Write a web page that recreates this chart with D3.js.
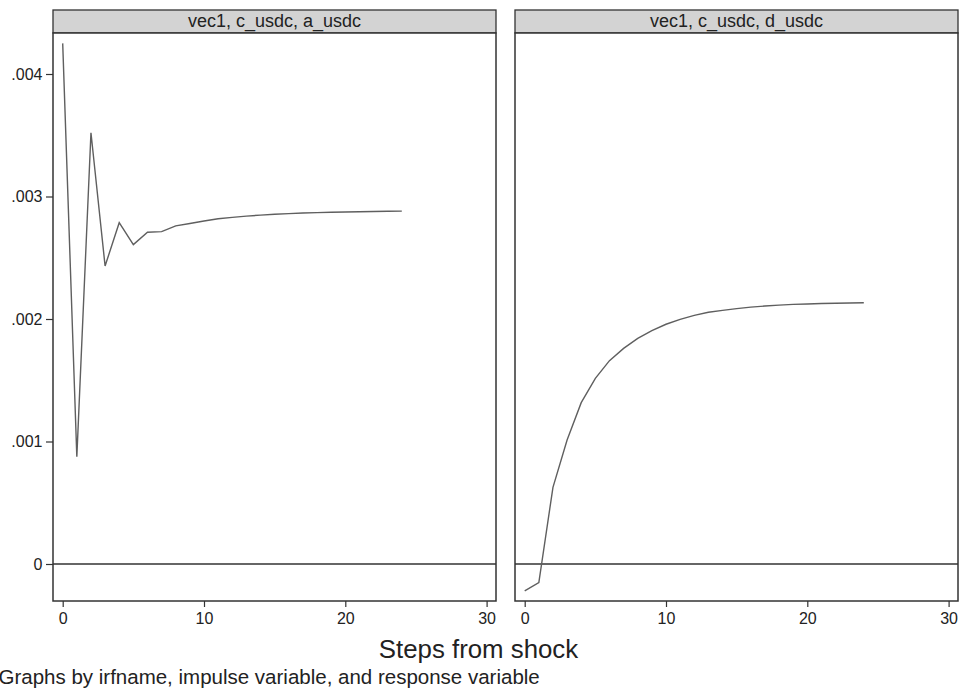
<!DOCTYPE html>
<html>
<head>
<meta charset="utf-8">
<script src="https://cdn.jsdelivr.net/npm/d3@7"></script>
<style>
  html, body { margin: 0; padding: 0; background: #fff; }
  svg { display: block; font-family: "Liberation Sans", Arial, sans-serif; }
</style>
</head>
<body>
<svg id="chart" width="961" height="693"></svg>
<script>
// Impulse-response steps (0..24)
const steps = d3.range(0, 25);

// Panel titles: irfname, impulse variable, response variable
const panelTitles = ["vec1, c_usdc, a_usdc", "vec1, c_usdc, d_usdc"];

// Response of a_usdc to an impulse in c_usdc
const irfA = [
  0.00425, 0.000876, 0.00352, 0.002433, 0.002786, 0.002607, 0.002708, 0.002713,
  0.00276, 0.00278, 0.0028, 0.002818, 0.00283, 0.00284, 0.002848, 0.002855,
  0.00286, 0.002865, 0.002868, 0.002871, 0.002874, 0.002876, 0.002878, 0.00288,
  0.002881
];

// Response of d_usdc to an impulse in c_usdc
const irfD = [
  -0.00022, -0.000152, 0.000626, 0.001012, 0.001317, 0.001516, 0.00166, 0.00176,
  0.001842, 0.001905, 0.001957, 0.001997, 0.00203, 0.002055, 0.00207, 0.002085,
  0.002097, 0.002106, 0.002113, 0.002119, 0.002123, 0.002126, 0.002129, 0.002131,
  0.002133
];

// Axis ticks
const xTicks = [0, 10, 20, 30];
const yTicks = [0, 0.001, 0.002, 0.003, 0.004];
const yTickLabels = ["0", ".001", ".002", ".003", ".004"];

const xTitle = "Steps from shock";
const note = "Graphs by irfname, impulse variable, and response variable";

const series = [irfA, irfD];

const svg = d3.select("#chart");
const fontFamily = "Liberation Sans, Arial, sans-serif";

// Panel geometry
const panels = [
  { left: 53, right: 496 },
  { left: 515, right: 958 }
];
const headerTop = 10, plotTop = 33, plotBottom = 601;

// Shared y scale
const y = d3.scaleLinear().domain([0, 0.004]).range([564, 74]);

const frameColor = "#333333";
const lineColor = "#5f5f5f";
const textColor = "#222222";

panels.forEach((p, i) => {
  const x = d3.scaleLinear().domain([0, 30]).range([p.left + 9.7, p.right - 9.4]);
  const g = svg.append("g");

  // Header strip
  g.append("rect")
    .attr("x", p.left).attr("y", headerTop)
    .attr("width", p.right - p.left).attr("height", plotTop - headerTop)
    .attr("fill", "#d3d3d3").attr("stroke", frameColor).attr("stroke-width", 1.3);
  g.append("text")
    .attr("x", (p.left + p.right) / 2).attr("y", 27)
    .attr("text-anchor", "middle").attr("font-size", 18).attr("fill", textColor)
    .attr("font-family", fontFamily)
    .text(panelTitles[i]);

  // Plot frame
  g.append("rect")
    .attr("x", p.left).attr("y", plotTop)
    .attr("width", p.right - p.left).attr("height", plotBottom - plotTop)
    .attr("fill", "#ffffff").attr("stroke", frameColor).attr("stroke-width", 1.5);

  // Zero reference line
  g.append("line")
    .attr("x1", p.left).attr("x2", p.right)
    .attr("y1", y(0)).attr("y2", y(0))
    .attr("stroke", frameColor).attr("stroke-width", 1.3);

  // X axis
  const xAxis = d3.axisBottom(x).tickValues(xTicks).tickSize(6).tickPadding(3)
    .tickFormat(d3.format("d"));
  const xg = g.append("g").attr("transform", `translate(0,${plotBottom})`).call(xAxis);
  xg.select(".domain").remove();
  xg.selectAll(".tick line").attr("stroke", frameColor).attr("stroke-width", 1.2);
  xg.selectAll(".tick text").attr("font-size", 16).attr("fill", textColor)
    .attr("font-family", fontFamily).attr("dy", null).attr("y", 23);

  // Y axis on the first panel only
  if (i === 0) {
    const yAxis = d3.axisLeft(y).tickValues(yTicks).tickSize(7).tickPadding(3.5)
      .tickFormat((d, k) => yTickLabels[k]);
    const yg = g.append("g").attr("transform", `translate(${p.left},0)`).call(yAxis);
    yg.select(".domain").remove();
    yg.selectAll(".tick line").attr("stroke", frameColor).attr("stroke-width", 1.2);
    yg.selectAll(".tick text").attr("font-size", 16).attr("fill", textColor)
      .attr("font-family", fontFamily);
  }

  // IRF line
  const line = d3.line().x((d, k) => x(steps[k])).y(d => y(d));
  g.append("path")
    .datum(series[i])
    .attr("d", line)
    .attr("fill", "none").attr("stroke", lineColor).attr("stroke-width", 1.4)
    .attr("stroke-linejoin", "miter");
});

// Shared x-axis title
svg.append("text")
  .attr("x", 478.5).attr("y", 658)
  .attr("text-anchor", "middle").attr("font-size", 25.8).attr("fill", textColor)
  .attr("font-family", fontFamily)
  .text(xTitle);

// Note
svg.append("text")
  .attr("x", -1.5).attr("y", 684)
  .attr("font-size", 20.5).attr("fill", textColor)
  .attr("font-family", fontFamily)
  .text(note);
</script>
</body>
</html>
